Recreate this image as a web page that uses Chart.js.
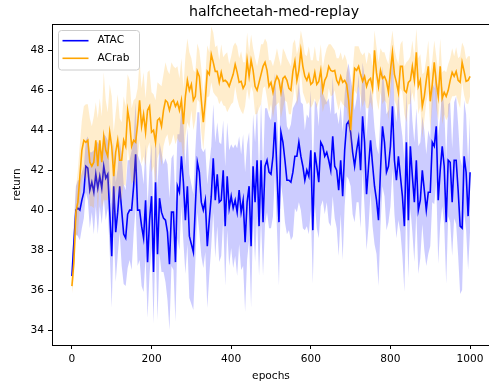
<!DOCTYPE html>
<html>
<head>
<meta charset="utf-8">
<script src="https://cdn.jsdelivr.net/npm/chart.js@4.4.0/dist/chart.umd.min.js"></script>
<style>
html, body { margin: 0; padding: 0; background: #fff; overflow: hidden; }
#wrap { position: absolute; left: 0; top: 0; width: 491px; height: 381px; }
</style>
</head>
<body>
<div id="wrap"><canvas id="chartReturn" width="491" height="381"></canvas></div>
<script>
var titlu = "halfcheetah-med-replay";
var xTicks = [0, 200, 400, 600, 800, 1000];
var yTicks = [34, 36, 38, 40, 42, 44, 46, 48];

// epochs 0,5,...,1000
var epochs = [];
for (var e = 0; e <= 1000; e += 5) epochs.push(e);

var atac = [
    36.7, 38.4, 40.0, 40.1, 40.0, 40.5, 40.9, 42.2, 42.1, 41.0, 41.4, 40.9, 41.8, 41.1, 41.7, 41.1, 42.2, 41.6, 41.8, 39.9,
    37.7, 41.2, 38.9, 39.9, 41.2, 40.0, 38.8, 38.6, 39.8, 40.0, 40.0, 41.2, 42.8, 40.0, 40.0, 39.2, 38.6, 40.5, 37.4, 39.5,
    40.7, 36.9, 41.4, 37.8, 40.6, 39.9, 39.6, 39.5, 38.9, 37.3, 39.9, 39.9, 37.4, 41.2, 40.9, 42.7, 41.4, 39.5, 41.2, 38.7,
    38.3, 37.9, 40.2, 42.4, 41.9, 40.4, 40.0, 40.5, 38.2, 39.5, 40.7, 42.6, 40.5, 41.8, 40.4, 40.5, 42.0, 39.2, 41.7, 40.1,
    40.7, 40.1, 40.5, 39.9, 41.0, 39.9, 40.5, 38.4, 40.4, 41.2, 38.2, 42.2, 40.4, 42.5, 39.2, 42.5, 39.4, 42.2, 42.5, 41.9,
    41.8, 42.7, 44.4, 41.9, 39.4, 43.9, 43.4, 42.5, 41.5, 41.5, 41.4, 41.9, 42.7, 42.7, 43.4, 42.7, 42.2, 41.5, 42.0, 41.7,
    43.0, 39.0, 42.9, 42.2, 41.4, 43.4, 43.2, 42.7, 42.9, 42.5, 42.0, 43.7, 42.2, 42.0, 41.0, 42.5, 40.7, 43.0, 44.3, 44.45,
    43.9, 42.9, 42.2, 43.0, 43.6, 42.0, 44.7, 43.4, 40.8, 42.2, 43.5, 42.3, 41.2, 40.5, 39.5, 42.0, 44.2, 43.4, 41.9, 42.2,
    43.2, 45.2, 42.5, 41.5, 42.7, 41.7, 40.7, 39.2, 43.4, 39.5, 43.2, 41.7, 40.4, 42.5, 40.0, 40.5, 42.0, 41.0, 40.0, 40.9,
    40.9, 43.4, 43.2, 44.2, 40.5, 42.0, 43.2, 42.2, 39.4, 42.5, 42.4, 40.4, 42.5, 42.5, 41.0, 39.2, 39.1, 42.7, 41.9, 39.7, 41.9
];
var atacStd = [
    0.5, 1.0, 1.2, 1.4, 1.5, 1.4, 1.3, 1.3, 1.6, 1.9, 1.5, 2.1, 1.6, 2.3, 1.5, 1.8, 1.6, 2.1, 1.7, 2.0,
    2.6, 2.3, 2.5, 2.2, 2.3, 2.8, 2.5, 2.4, 2.7, 2.5, 3.0, 2.4, 2.6, 2.8, 2.5, 3.0, 2.7, 2.8, 2.8, 2.7,
    2.6, 2.6, 2.9, 3.3, 2.8, 3.0, 2.7, 3.1, 3.4, 3.3, 2.7, 2.9, 3.0, 2.6, 2.9, 2.5, 3.0, 2.7, 2.9, 3.1,
    3.0, 2.9, 2.8, 2.5, 3.0, 2.7, 2.9, 2.6, 3.1, 2.8, 2.5, 2.7, 2.9, 2.6, 3.0, 2.8, 2.5, 3.0, 2.7, 2.9,
    2.6, 3.0, 2.8, 3.2, 2.7, 2.9, 3.3, 3.5, 2.9, 2.7, 3.1, 2.6, 3.0, 2.8, 2.5, 3.0, 2.7, 2.9, 2.6, 2.8,
    2.7, 3.0, 2.5, 2.9, 3.2, 2.6, 2.8, 3.1, 2.7, 2.5, 2.9, 3.2, 2.6, 2.8, 3.0, 2.7, 3.1, 2.5, 2.8, 2.9,
    3.0, 2.7, 2.6, 3.1, 2.8, 3.2, 2.7, 2.9, 2.5, 3.1, 2.8, 3.0, 2.6, 2.9, 3.3, 2.7, 3.2, 2.8, 2.6, 2.9,
    2.7, 3.1, 2.8, 2.6, 3.2, 2.9, 2.7, 3.3, 2.8, 3.0, 2.6, 3.1, 2.9, 2.7, 3.3, 2.8, 3.0, 2.7, 2.9, 2.8,
    3.0, 3.1, 2.7, 2.9, 3.2, 2.8, 3.0, 3.3, 2.7, 2.9, 3.1, 2.8, 3.0, 2.6, 3.2, 2.9, 2.7, 3.0, 2.8, 3.1,
    2.7, 3.0, 2.9, 2.8, 3.2, 2.7, 3.0, 2.9, 3.1, 2.8, 3.0, 2.7, 2.9, 3.2, 3.3, 3.4, 3.1, 2.8, 2.9, 2.7, 2.9
];
var acrab = [
    36.2, 37.4, 39.9, 40.4, 41.7, 43.0, 43.5, 43.4, 43.5, 42.4, 42.2, 42.4, 43.5, 42.2, 43.5, 42.4, 43.7, 43.0, 42.7, 43.9,
    43.2, 41.7, 42.9, 43.5, 42.5, 42.5, 43.5, 43.2, 45.0, 44.4, 43.2, 43.5, 43.4, 44.3, 45.5, 44.2, 44.8, 43.9, 45.0, 45.2,
    43.9, 44.0, 43.4, 44.5, 44.6, 44.2, 45.0, 45.5, 45.4, 45.0, 45.4, 45.5, 45.2, 45.4, 45.0, 45.5, 44.3, 45.7, 46.5, 46.0,
    46.3, 45.5, 45.7, 46.95, 46.7, 45.5, 44.4, 45.5, 46.95, 46.8, 47.8, 47.4, 46.95, 46.95, 46.4, 46.9, 46.45, 46.5, 46.4, 46.2,
    46.5, 46.8, 47.3, 46.9, 46.4, 46.45, 46.1, 46.3, 47.5, 46.7, 47.5, 47.0, 46.2, 46.0, 46.4, 46.8, 47.2, 47.4, 47.0, 46.2,
    46.4, 45.9, 46.4, 46.7, 46.5, 45.9, 46.6, 46.7, 46.5, 46.1, 46.0, 46.95, 47.45, 46.5, 47.0, 48.0, 47.2, 46.7, 46.5, 46.8,
    46.3, 46.4, 46.9, 46.3, 46.45, 47.0, 46.0, 46.5, 46.7, 47.2, 47.0, 46.95, 47.0, 46.5, 46.3, 46.7, 46.4, 46.5, 46.3, 45.5,
    44.0, 45.7, 47.1, 47.0, 47.2, 46.8, 46.45, 46.7, 46.2, 46.5, 46.6, 46.1, 48.0, 46.87, 46.2, 47.0, 46.6, 46.7, 46.45, 45.9,
    47.0, 47.9, 46.8, 46.4, 45.9, 47.2, 47.2, 46.0, 45.9, 46.4, 46.5, 47.2, 46.5, 47.9, 46.2, 46.5, 45.2, 45.7, 46.5, 47.2,
    45.45, 46.3, 47.4, 46.4, 45.7, 47.2, 45.6, 45.9, 45.7, 46.0, 46.5, 46.9, 46.7, 46.95, 46.5, 46.4, 47.4, 46.95, 46.45, 46.5, 46.7
];
var acrabStd = [
    0.4, 0.8, 1.2, 1.6, 1.6, 1.5, 1.7, 1.9, 1.8, 2.2, 2.0, 2.3, 1.9, 2.4, 2.1, 2.3, 3.2, 2.5, 2.2, 2.4,
    2.5, 2.2, 2.0, 2.3, 2.1, 1.9, 2.2, 2.0, 1.8, 2.1, 1.9, 2.0, 2.2, 1.8, 2.0, 1.9, 2.1, 1.7, 1.9, 1.8,
    2.0, 1.8, 2.1, 1.9, 1.7, 2.0, 1.8, 1.9, 1.6, 1.8, 2.0, 1.7, 1.9, 1.8, 1.6, 2.1, 1.8, 2.0, 2.1, 1.9,
    1.3, 1.5, 1.2, 1.4, 1.3, 1.6, 1.4, 1.2, 1.3, 1.1, 1.4, 1.5, 1.2, 1.3, 1.1, 1.4, 1.2, 1.3, 1.5, 1.1,
    1.2, 1.4, 1.1, 1.3, 1.2, 1.5, 1.3, 1.1, 1.4, 1.2, 1.3, 1.1, 1.4, 1.2, 1.3, 1.5, 1.1, 1.2, 1.4, 1.3,
    1.1, 1.3, 1.2, 1.4, 1.1, 1.3, 1.5, 1.2, 1.1, 1.3, 1.2, 1.4, 1.1, 1.3, 1.2, 1.0, 1.3, 1.1, 1.2, 1.4,
    1.2, 1.1, 1.3, 1.2, 1.0, 1.3, 1.1, 1.2, 1.4, 1.1, 1.3, 1.2, 1.0, 1.1, 1.3, 1.2, 1.1, 1.3, 1.2, 1.4,
    1.8, 1.3, 1.1, 1.2, 1.0, 1.1, 1.3, 1.2, 1.1, 1.4, 1.2, 1.1, 1.0, 1.3, 1.2, 1.1, 1.3, 1.2, 1.1, 1.4,
    1.2, 1.1, 1.3, 1.2, 1.4, 1.1, 1.3, 1.2, 1.5, 1.1, 1.2, 1.3, 1.1, 1.2, 1.4, 1.3, 1.6, 1.2, 1.1, 1.3,
    1.4, 1.2, 1.1, 1.3, 1.2, 1.4, 1.3, 1.1, 1.2, 1.3, 1.1, 1.2, 1.0, 1.2, 1.1, 1.3, 1.0, 1.2, 1.1, 1.2, 1.0
];

function puncte(vals) {
    return vals.map(function (v, i) { return { x: epochs[i], y: v }; });
}
function banda(medie, std, semn) {
    return medie.map(function (m, i) { return { x: epochs[i], y: m + semn * std[i] }; });
}

var fontTicks = { family: 'DejaVu Sans', size: 10.6 };

var pluginCadru = {
    id: 'cadru',
    afterDraw: function (chart) {
        var ctx = chart.ctx, a = chart.chartArea;
        ctx.save();
        // top + right spine
        ctx.strokeStyle = '#000';
        ctx.lineWidth = 1;
        ctx.beginPath();
        ctx.moveTo(a.left, a.top + 0.5);
        ctx.lineTo(a.right, a.top + 0.5);
        ctx.lineTo(a.right, a.bottom);
        ctx.stroke();
        // title
        ctx.fillStyle = '#000';
        ctx.font = '14.2px "DejaVu Sans"';
        ctx.textAlign = 'center';
        ctx.textBaseline = 'middle';
        ctx.fillText(titlu, (a.left + a.right) / 2 + 3, 12.5);
        // legend
        var bx = 58.5, by = 30.5, bw = 81, bh = 39.5, r = 3;
        ctx.beginPath();
        ctx.moveTo(bx + r, by);
        ctx.lineTo(bx + bw - r, by);
        ctx.quadraticCurveTo(bx + bw, by, bx + bw, by + r);
        ctx.lineTo(bx + bw, by + bh - r);
        ctx.quadraticCurveTo(bx + bw, by + bh, bx + bw - r, by + bh);
        ctx.lineTo(bx + r, by + bh);
        ctx.quadraticCurveTo(bx, by + bh, bx, by + bh - r);
        ctx.lineTo(bx, by + r);
        ctx.quadraticCurveTo(bx, by, bx + r, by);
        ctx.closePath();
        ctx.fillStyle = 'rgba(255,255,255,0.8)';
        ctx.fill();
        ctx.strokeStyle = '#cccccc';
        ctx.stroke();
        var intrari = [['ATAC', 'blue', 40.7], ['ACrab', 'orange', 58.3]];
        ctx.font = '10.6px "DejaVu Sans"';
        ctx.textAlign = 'left';
        intrari.forEach(function (it) {
            ctx.strokeStyle = it[1];
            ctx.lineWidth = 1.6;
            ctx.beginPath();
            ctx.moveTo(62.5, it[2]);
            ctx.lineTo(88.5, it[2]);
            ctx.stroke();
            ctx.fillStyle = '#000';
            ctx.fillText(it[0], 97.5, it[2]);
        });
        ctx.restore();
    }
};

var ctx1 = document.getElementById('chartReturn').getContext('2d');
var chartReturn = new Chart(ctx1, {
    type: 'line',
    data: {
        datasets: [
            { label: 'atacLow', data: banda(atac, atacStd, -1), borderWidth: 0, pointRadius: 0, fill: false, order: 6 },
            { label: 'atacHigh', data: banda(atac, atacStd, 1), borderWidth: 0, pointRadius: 0, fill: '-1', backgroundColor: 'rgba(0,0,255,0.2)', order: 5 },
            { label: 'ATAC', data: puncte(atac), borderColor: 'blue', borderWidth: 1.6, pointRadius: 0, fill: false, tension: 0, order: 4 },
            { label: 'acrabLow', data: banda(acrab, acrabStd, -1), borderWidth: 0, pointRadius: 0, fill: false, order: 3 },
            { label: 'acrabHigh', data: banda(acrab, acrabStd, 1), borderWidth: 0, pointRadius: 0, fill: '-1', backgroundColor: 'rgba(255,165,0,0.2)', order: 2 },
            { label: 'ACrab', data: puncte(acrab), borderColor: 'orange', borderWidth: 1.6, pointRadius: 0, fill: false, tension: 0, order: 1 }
        ]
    },
    options: {
        responsive: false,
        animation: false,
        devicePixelRatio: 1,
        layout: { padding: { top: 24, right: 1, left: 0, bottom: 0 } },
        plugins: { legend: { display: false }, tooltip: { enabled: false }, title: { display: false } },
        scales: {
            x: {
                type: 'linear',
                min: -50,
                max: 1050,
                afterBuildTicks: function (s) { s.ticks = xTicks.map(function (v) { return { value: v }; }); },
                afterFit: function (s) { s.height = 36; s.paddingLeft = 0; s.paddingRight = 0; },
                ticks: { color: '#000', font: fontTicks, padding: 4, maxRotation: 0, autoSkip: false,
                    callback: function (v) { return String(v); } },
                grid: { display: true, drawOnChartArea: false, drawTicks: true, tickLength: 4, color: '#000', lineWidth: 1 },
                border: { display: true, color: '#000', width: 1 },
                title: { display: true, text: 'epochs', color: '#000', font: { family: 'DejaVu Sans', size: 10.6, lineHeight: 1 }, padding: { top: 0, bottom: -1 } }
            },
            y: {
                type: 'linear',
                min: 33.25,
                max: 49.32,
                afterBuildTicks: function (s) { s.ticks = yTicks.map(function (v) { return { value: v }; }); },
                afterFit: function (s) { s.width = 52; s.paddingTop = 0; s.paddingBottom = 0; },
                ticks: { color: '#000', font: fontTicks, padding: 4, autoSkip: false,
                    callback: function (v) { return String(v); } },
                grid: { display: true, drawOnChartArea: false, drawTicks: true, tickLength: 4, color: '#000', lineWidth: 1 },
                border: { display: true, color: '#000', width: 1 },
                title: { display: true, text: 'return', color: '#000', font: { family: 'DejaVu Sans', size: 10.6, lineHeight: 1 }, padding: { top: 12, bottom: 0 } }
            }
        }
    },
    plugins: [pluginCadru]
});
</script>
</body>
</html>
